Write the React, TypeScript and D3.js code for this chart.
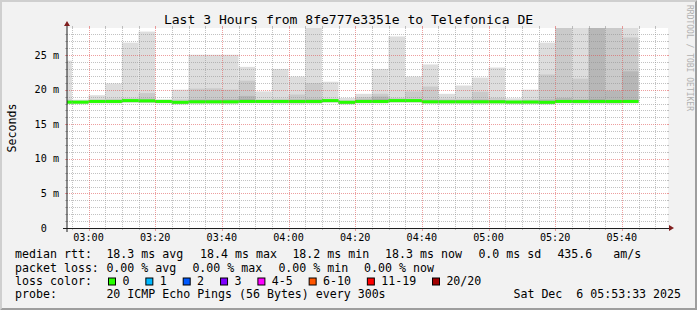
import React, { useEffect } from "react";
import * as d3 from "d3";

const W = 697;
const H = 310;

// 5-minute bins (start times, UTC)
const binStarts = ["02:50","02:55","03:00","03:05","03:10","03:15","03:20","03:25","03:30","03:35","03:40","03:45","03:50","03:55","04:00","04:05","04:10","04:15","04:20","04:25","04:30","04:35","04:40","04:45","04:50","04:55","05:00","05:05","05:10","05:15","05:20","05:25","05:30","05:35","05:40"];

// median rtt (ms)
const median = [18.2,18.2,18.3,18.3,18.42,18.38,18.3,18.18,18.25,18.25,18.25,18.3,18.3,18.3,18.3,18.3,18.42,18.18,18.3,18.3,18.42,18.42,18.25,18.25,18.25,18.25,18.25,18.22,18.22,18.18,18.3,18.3,18.3,18.3,18.3];
// sorted pings: highest ones
const ping20 = [24.2,18.55,19.2,20.9,26.8,28.4,18.6,20.0,25.05,25.05,25.05,23.3,19.75,23.0,21.9,31.2,21.15,18.8,19.4,23.0,27.7,21.9,23.65,19.4,20.6,21.75,23.2,18.75,20.0,26.8,32.4,30.6,34.1,31.8,30.9];
const ping19 = [18.6,18.4,18.6,18.7,18.75,19.5,18.45,18.6,20.15,20.2,20.0,21.3,18.6,18.7,19.3,20.95,18.7,18.45,18.9,19.4,18.8,19.75,20.45,18.7,18.7,19.7,18.8,18.4,18.6,22.2,30.1,21.6,32.0,29.6,27.55];
const ping18 = [18.4,18.35,18.45,18.5,18.55,18.7,18.4,18.35,18.6,18.6,18.65,19.1,18.45,18.5,18.6,18.7,18.55,18.35,18.6,19.0,18.6,18.6,18.6,18.5,18.5,18.6,18.5,18.35,18.4,18.6,18.8,18.6,30.4,19.85,22.65];
const ping17 = [18.3,18.3,18.35,18.4,18.5,18.5,18.35,18.3,18.45,18.45,18.45,18.6,18.4,18.4,18.45,18.5,18.5,18.3,18.45,18.6,18.5,18.5,18.4,18.4,18.4,18.45,18.4,18.3,18.3,18.4,18.5,18.45,18.6,18.5,18.55];
// sorted pings: lowest ones
const ping1 = [17.9,17.9,18.0,18.0,18.1,18.05,18.0,17.85,17.9,17.95,17.9,18.0,18.0,17.95,17.9,17.95,18.1,17.85,18.0,18.0,18.1,18.1,17.95,17.95,17.95,17.9,17.95,17.9,17.9,17.85,18.0,17.95,17.95,17.9,18.0];
const ping2 = [18.0,18.0,18.1,18.1,18.2,18.15,18.1,17.95,18.05,18.05,18.05,18.1,18.1,18.1,18.05,18.1,18.2,17.95,18.1,18.1,18.2,18.2,18.05,18.05,18.05,18.05,18.05,18.0,18.0,17.95,18.1,18.1,18.05,18.05,18.1];
const ping3 = [18.05,18.05,18.15,18.15,18.25,18.2,18.15,18.0,18.1,18.1,18.1,18.15,18.15,18.15,18.1,18.15,18.25,18.0,18.15,18.15,18.25,18.25,18.1,18.1,18.1,18.1,18.1,18.05,18.05,18.0,18.15,18.15,18.1,18.1,18.15];
const ping4 = [18.1,18.1,18.2,18.2,18.3,18.25,18.2,18.05,18.15,18.15,18.15,18.2,18.2,18.2,18.15,18.2,18.3,18.05,18.2,18.2,18.3,18.3,18.15,18.15,18.15,18.15,18.15,18.1,18.1,18.05,18.2,18.2,18.15,18.15,18.2];

const yTicks = [0, 5, 10, 15, 20, 25];
const yMax = 28.92;

const lossLabels = ["0", "1", "2", "3", "4-5", "6-10", "11-19", "20/20"];
const lossColors = ["#26ff00", "#00b8ff", "#0059ff", "#7e00ff", "#ff00ff", "#ff5500", "#ff0000", "#a10000"];

const title = "Last 3 Hours from 8fe777e3351e to Telefonica DE";
const statLine1 = [
  ["median rtt:", 16],
  ["18.3 ms avg", 107.3],
  ["18.4 ms max", 201],
  ["18.2 ms min", 293.3],
  ["18.3 ms now", 386],
  ["0.0 ms sd", 479.3],
  ["435.6   am/s", 558.3],
] as [string, number][];
const statLine2 = [
  ["packet loss:", 16],
  ["0.00 % avg", 107.3],
  ["0.00 % max", 193.3],
  ["0.00 % min", 279.3],
  ["0.00 % now", 365],
] as [string, number][];
const probeText = "20 ICMP Echo Pings (56 Bytes) every 300s";
const dateText = "Sat Dec  6 05:53:33 2025";

const FONT = "'DejaVu Sans Mono', monospace";

const t = (hm: string, s = 0) =>
  new Date(Date.UTC(2025, 11, 6, +hm.slice(0, 2), +hm.slice(3, 5), s));

export default function App() {
  useEffect(() => {
    document.body.style.margin = "0";
  }, []);

  const X0 = 67, X1 = 667, Y0 = 228, Y1 = 28;
  const x = d3.scaleUtc().domain([t("02:53", 33), t("05:53", 33)]).range([X0, X1]);
  const y = d3.scaleLinear().domain([0, yMax]).range([Y0, Y1]);

  const minorX = d3.utcMinute.every(5)!.range(x.domain()[0], x.domain()[1]);
  const majorX = d3.utcMinute.every(20)!.range(x.domain()[0], x.domain()[1]);
  const isMajorT = (d: Date) => d.getUTCMinutes() % 20 === 0;
  const minorY = d3.range(1, Math.floor(yMax) + 1).filter((v) => v % 5 !== 0);
  const majorY = yTicks.filter((v) => v > 0);
  const fmt = d3.utcFormat("%H:%M");

  const layers: [number[], number[], string][] = [
    [ping1, ping20, "#dddddd"],
    [ping2, ping19, "#cacaca"],
    [ping3, ping18, "#b7b7b7"],
    [ping4, ping17, "#a4a4a4"],
  ];

  const gridMinor = "rgba(143,143,143,0.55)";
  const gridMajor = "rgba(222,79,79,0.55)";
  const snap = (v: number) => Math.round(v) + 0.5;

  // loss legend layout
  const charW = 6.95;
  let cursor = 108.3;
  const lossItems = lossLabels.map((lab, i) => {
    const sx = cursor;
    const tx = sx + 15;
    cursor = tx + lab.length * charW + 15.4;
    return { lab, color: lossColors[i], sx, tx };
  });

  const legendY = [258.3, 271.7, 285, 298.4];

  return (
    <svg
      width={W}
      height={H}
      style={{ position: "absolute", left: 0, top: 0, display: "block" }}
      xmlns="http://www.w3.org/2000/svg"
    >
      <defs>
        <clipPath id="plotclip">
          <rect x={X0} y={Y1} width={X1 - X0 + 1} height={Y0 - Y1} />
        </clipPath>
      </defs>
      {/* background + frame shades */}
      <rect x={0} y={0} width={W} height={H} fill="#f2f2f2" />
      <polygon points={`0,0 ${W},0 ${W - 2},2 2,2 2,${H - 2} 0,${H}`} fill="#cfcfcf" />
      <polygon points={`${W},0 ${W},${H} 0,${H} 2,${H - 2} ${W - 2},${H - 2} ${W - 2},2`} fill="#9e9e9e" />
      {/* canvas */}
      <rect x={X0} y={Y1} width={X1 - X0 + 1} height={Y0 - Y1} fill="#ffffff" />

      {/* smoke */}
      <g clipPath="url(#plotclip)">
        {layers.map(([lo, hi, col], li) => (
          <g key={li} fill={col}>
            {binStarts.map((b, k) => {
              const s = t(b);
              const e = new Date(s.getTime() + 5 * 60000);
              const xa = x(s), xb = x(e);
              const ya = y(hi[k]), yb = y(lo[k]);
              return <rect key={k} x={xa} y={ya} width={xb - xa} height={Math.max(0, yb - ya)} />;
            })}
          </g>
        ))}
        {/* median line, colored by loss */}
        <g fill={lossColors[0]}>
          {binStarts.map((b, k) => {
            const s = t(b);
            const e = new Date(s.getTime() + 5 * 60000);
            return (
              <rect key={k} x={x(s)} y={y(median[k]) - 1.5} width={x(e) - x(s)} height={3} />
            );
          })}
        </g>
      </g>

      {/* grid */}
      <g strokeWidth={1} fill="none">
        {minorY.map((v) => (
          <g key={"my" + v} stroke={gridMinor}>
            <line x1={X0} x2={X1} y1={snap(y(v))} y2={snap(y(v))} strokeDasharray="1,1" />
            <line x1={X0 - 2} x2={X0} y1={snap(y(v))} y2={snap(y(v))} />
            <line x1={X1} x2={X1 + 2} y1={snap(y(v))} y2={snap(y(v))} />
          </g>
        ))}
        {minorX.filter((d) => !isMajorT(d)).map((d, i) => (
          <g key={"mx" + i} stroke={gridMinor}>
            <line x1={snap(x(d))} x2={snap(x(d))} y1={Y1} y2={Y0} strokeDasharray="1,1" />
            <line x1={snap(x(d))} x2={snap(x(d))} y1={Y1 - 2} y2={Y1} />
            <line x1={snap(x(d))} x2={snap(x(d))} y1={Y0} y2={Y0 + 2} />
          </g>
        ))}
        {majorY.map((v) => (
          <g key={"My" + v} stroke={gridMajor}>
            <line x1={X0} x2={X1} y1={snap(y(v))} y2={snap(y(v))} strokeDasharray="1,1" />
            <line x1={X0 - 2} x2={X0} y1={snap(y(v))} y2={snap(y(v))} />
            <line x1={X1} x2={X1 + 2} y1={snap(y(v))} y2={snap(y(v))} />
          </g>
        ))}
        {majorX.map((d, i) => (
          <g key={"Mx" + i} stroke={gridMajor}>
            <line x1={snap(x(d))} x2={snap(x(d))} y1={Y1} y2={Y0} strokeDasharray="1,1" />
            <line x1={snap(x(d))} x2={snap(x(d))} y1={Y1 - 2} y2={Y1} />
            <line x1={snap(x(d))} x2={snap(x(d))} y1={Y0} y2={Y0 + 3} />
          </g>
        ))}
      </g>

      {/* axes */}
      <line x1={X0 - 4} x2={X1 + 4} y1={Y0 + 0.5} y2={Y0 + 0.5} stroke="#1f1f1f" strokeWidth={1} />
      <line x1={X0} x2={X0} y1={Y0 + 4} y2={Y1 - 4} stroke="#1f1f1f" strokeWidth={1} />
      <polygon points={`${X1 + 2},${Y0 - 3} ${X1 + 2},${Y0 + 3} ${X1 + 7},${Y0}`} fill="#801f1f" />
      <polygon points={`${X0 - 3},${Y1 - 2} ${X0 + 3},${Y1 - 2} ${X0},${Y1 - 7}`} fill="#801f1f" />

      {/* axis labels */}
      <g fontFamily={FONT} fontSize={10.15} fill="#000" style={{ whiteSpace: "pre" }}>
        {yTicks.map((v) => (
          <text key={v} x={59} y={y(v) + 3.5} textAnchor="end" xmlSpace="preserve">
            {v === 0 ? "0  " : `${v} m`}
          </text>
        ))}
        {majorX.map((d, i) => (
          <text key={i} x={x(d)} y={240.7} textAnchor="middle">
            {fmt(d)}
          </text>
        ))}
      </g>

      {/* title, unit, watermark */}
      <text x={W / 2} y={24} textAnchor="middle" fontFamily={FONT} fontSize={13.05} fill="#000">
        {title}
      </text>
      <text
        x={15.5}
        y={(Y0 + Y1) / 2}
        transform={`rotate(-90, 15.5, ${(Y0 + Y1) / 2})`}
        textAnchor="middle"
        fontFamily={FONT}
        fontSize={11.6}
        fill="#000"
      >
        Seconds
      </text>
      <text
        x={687}
        y={5}
        transform="rotate(90, 687, 5)"
        fontFamily={FONT}
        fontSize={8}
        fill="#b0b0b0"
      >
        RRDTOOL / TOBI OETIKER
      </text>

      {/* legend */}
      <g fontFamily={FONT} fontSize={11.6} fill="#000" style={{ whiteSpace: "pre" }}>
        {statLine1.map(([s, px], i) => (
          <text key={"a" + i} x={px - 0.9} y={legendY[0]} xmlSpace="preserve">{s}</text>
        ))}
        {statLine2.map(([s, px], i) => (
          <text key={"b" + i} x={px - 0.9} y={legendY[1]} xmlSpace="preserve">{s}</text>
        ))}
        <text x={16 - 0.9} y={legendY[2]}>loss color:</text>
        {lossItems.map((it, i) => (
          <g key={"l" + i}>
            <rect x={it.sx + 0.2} y={278} width={7} height={7} fill={it.color} stroke="#000" strokeWidth={1} />
            <text x={it.tx - 0.9} y={legendY[2]}>{it.lab}</text>
          </g>
        ))}
        <text x={16 - 0.9} y={legendY[3]}>probe:</text>
        <text x={107.3 - 0.9} y={legendY[3]}>{probeText}</text>
        <text x={681} y={legendY[3]} textAnchor="end" xmlSpace="preserve">{dateText}</text>
      </g>
    </svg>
  );
}
